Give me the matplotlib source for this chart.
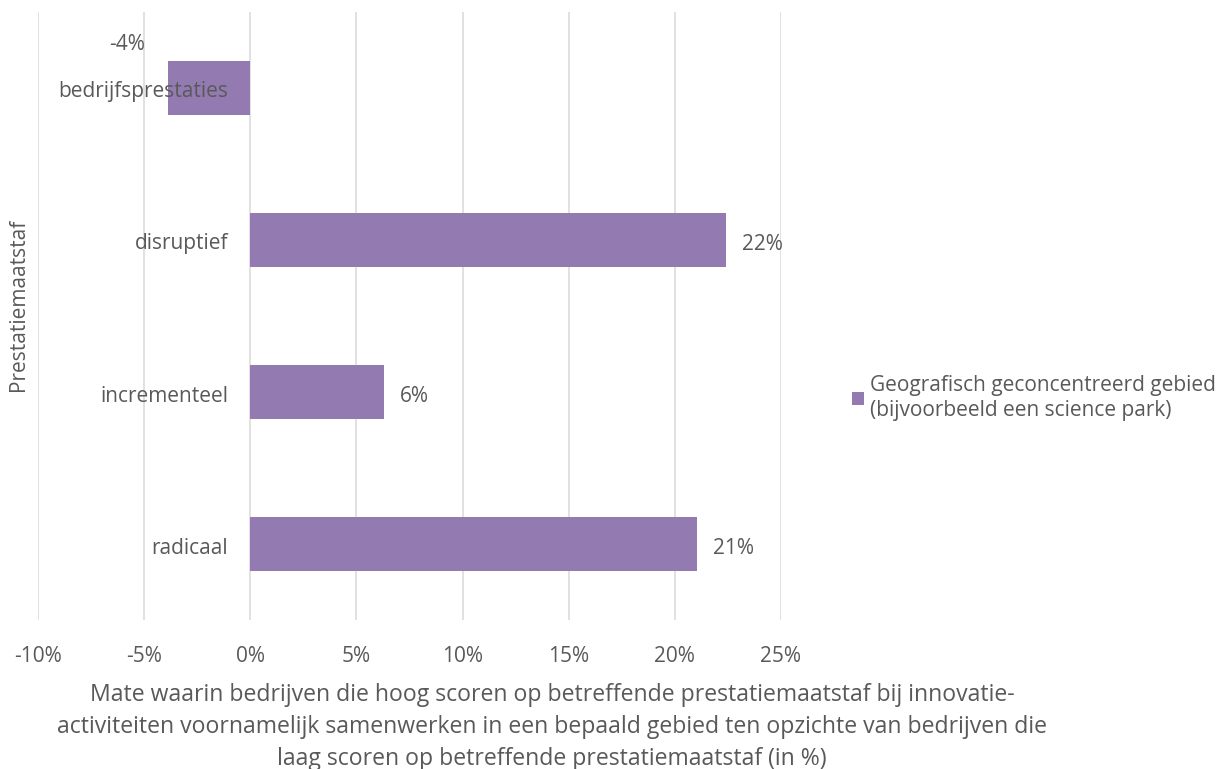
import matplotlib.pyplot as plt
from matplotlib.patches import Patch

plt.rcParams["font.family"] = ["Open Sans", "DejaVu Sans"]

# Data
categories = ["bedrijfsprestaties", "disruptief", "incrementeel", "radicaal"]
values = [-3.86, 22.4, 6.3, 21.05]
value_labels = ["-4%", "22%", "6%", "21%"]
series_name = "Geografisch geconcentreerd gebied\n(bijvoorbeeld een science park)"
x_ticks = [-10, -5, 0, 5, 10, 15, 20, 25]
x_title = ("Mate waarin bedrijven die hoog scoren op betreffende prestatiemaatstaf bij innovatie-\n"
           "activiteiten voornamelijk samenwerken in een bepaald gebied ten opzichte van bedrijven die\n"
           "laag scoren op betreffende prestatiemaatstaf (in %)")
y_title = "Prestatiemaatstaf"

text_color = "#595959"
bar_color = "#937BB2"
grid_color = "#D9D9D9"
fs = 15

fig = plt.figure(figsize=(12.23, 7.69), dpi=100)
ax = fig.add_axes([38 / 1223, 1 - 620 / 769, (781 - 38) / 1223, (620 - 12) / 769])

ypos = list(range(len(categories)))[::-1]
ax.barh(ypos, values, height=0.35, color=bar_color, zorder=3)

ax.set_xlim(-10, 25)
ax.set_ylim(-0.5, 3.5)
ax.set_xticks(x_ticks)
ax.set_xticklabels([f"{t}%" for t in x_ticks], fontsize=fs, color=text_color)
ax.tick_params(axis="x", length=0, pad=19)
ax.set_yticks([])
for s in ax.spines.values():
    s.set_visible(False)
ax.grid(axis="x", color=grid_color, linewidth=1.1, zorder=0)

# category labels next to the zero line
for y, cat in zip(ypos, categories):
    ax.annotate(cat, xy=(0, y), xytext=(-22, -4), textcoords="offset pixels",
                ha="right", va="center", fontsize=fs, color=text_color, zorder=4)

# value labels
for y, v, lab in zip(ypos, values, value_labels):
    if v >= 0:
        ax.annotate(lab, xy=(v, y), xytext=(16, -4), textcoords="offset pixels",
                    ha="left", va="center", fontsize=fs, color=text_color)
    else:
        ax.annotate(lab, xy=(v, y), xytext=(-23, 43), textcoords="offset pixels",
                    ha="right", va="center", fontsize=fs, color=text_color)

fig.text(19 / 1223, 1 - 305 / 769, y_title, rotation=90, ha="center", va="center",
         fontsize=fs, color=text_color)
fig.text(552 / 1223, 1 - 727 / 769, x_title, ha="center", va="center",
         multialignment="center", fontsize=16.6, color=text_color, linespacing=1.42)

fig.legend(handles=[Patch(facecolor=bar_color, edgecolor="none", label=series_name)],
           loc="center left", bbox_to_anchor=(833 / 1223, 1 - 398 / 769),
           frameon=False, fontsize=fs, labelcolor=text_color,
           handlelength=0.6, handleheight=0.6, handletextpad=0.3)

fig.savefig("out.png", dpi=100)
